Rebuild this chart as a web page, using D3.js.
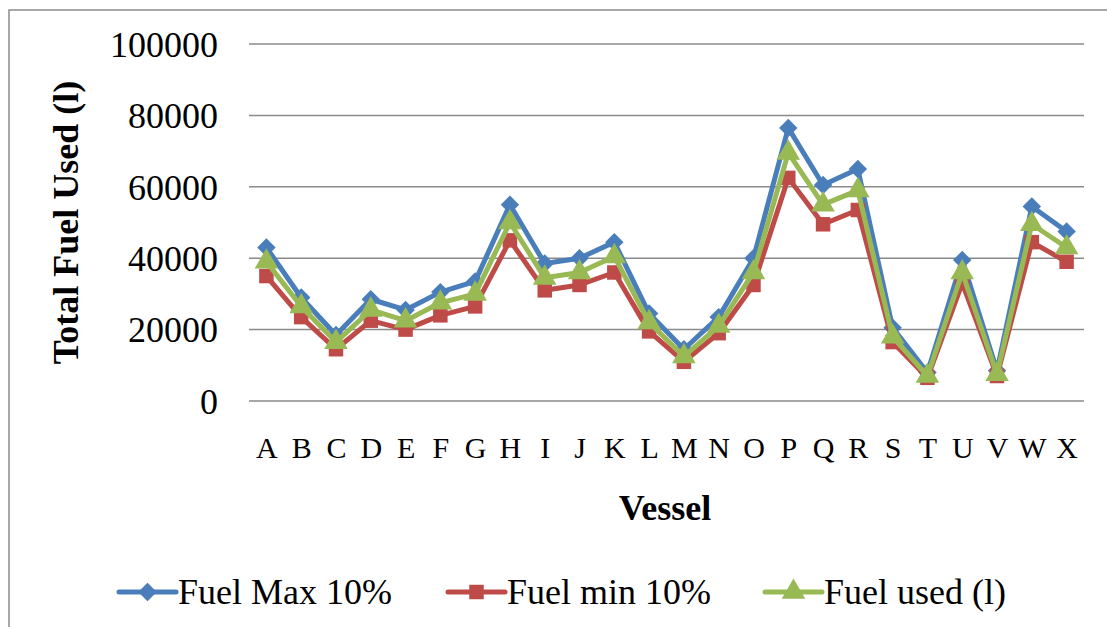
<!DOCTYPE html>
<html>
<head>
<meta charset="utf-8">
<script src="https://cdn.jsdelivr.net/npm/d3@7"></script>
<style>
  body { margin: 0; background: #fff; }
  svg { display: block; font-family: "Liberation Serif", "Times New Roman", serif; }
</style>
</head>
<body>
<div class="chart-wrapper"></div>
<script>
// chart data
const vessels = ["A","B","C","D","E","F","G","H","I","J","K","L","M","N","O","P","Q","R","S","T","U","V","W","X"];
const fuelMax = [43000,29000,18500,28500,25500,30500,33500,55000,38500,40000,44500,24500,14500,23500,40000,76500,60500,65000,20500,8000,39500,8500,54500,47500];
const fuelMin = [35000,23500,14500,22500,20000,24000,26500,45000,31000,32500,36000,19500,11000,19000,32500,62500,49500,53500,16500,6500,33000,7000,44500,39000];
const fuelUsed = [39000,26500,16500,25500,22500,27500,30000,50000,34500,36000,40500,22000,12500,21000,36000,69500,55000,59000,18000,7000,36000,7500,49500,43000];
const yTicks = [0, 20000, 40000, 60000, 80000, 100000];
const seriesNames = ["Fuel Max 10%", "Fuel min 10%", "Fuel used (l)"];

const width = 1107, height = 627;
const plot = { left: 249, right: 1084, top: 44, bottom: 401 };

const svg = d3.select(".chart-wrapper")
  .append("svg")
  .attr("width", width)
  .attr("height", height);

// outer frame (runs off the right / bottom edge like the source)
svg.append("rect")
  .attr("x", 9).attr("y", 10)
  .attr("width", width + 10).attr("height", height + 10)
  .attr("fill", "#fff")
  .attr("stroke", "#8c8c8c")
  .attr("stroke-width", 1.5);

const x = d3.scalePoint().domain(vessels).range([plot.left, plot.right]).padding(0.5);
const y = d3.scaleLinear().domain([0, 100000]).range([plot.bottom, plot.top]);

// gridlines
svg.append("g")
  .selectAll("line")
  .data(yTicks)
  .join("line")
  .attr("x1", plot.left).attr("x2", plot.right)
  .attr("y1", d => y(d)).attr("y2", d => y(d))
  .attr("stroke", "#8a8a8a")
  .attr("stroke-width", 1.5);

// y axis labels
const yAxis = svg.append("g")
  .attr("transform", `translate(${plot.left - 31},0)`)
  .call(d3.axisLeft(y).tickValues(yTicks).tickSize(0).tickPadding(0).tickFormat(d3.format("d")));
yAxis.select(".domain").remove();
yAxis.selectAll("text")
  .attr("font-family", "Liberation Serif")
  .attr("font-size", 36)
  .attr("fill", "#000")
  .attr("dy", "0.34em");

// x axis labels
const xAxis = svg.append("g")
  .attr("transform", `translate(0,${plot.bottom})`)
  .call(d3.axisBottom(x).tickSize(0).tickPadding(0));
xAxis.select(".domain").remove();
xAxis.selectAll("text")
  .attr("font-family", "Liberation Serif")
  .attr("font-size", 30)
  .attr("fill", "#000")
  .attr("dy", null)
  .attr("y", 57);

// axis titles
svg.append("text")
  .attr("x", 665).attr("y", 520)
  .attr("text-anchor", "middle")
  .attr("font-size", 36)
  .attr("font-weight", "bold")
  .text("Vessel");

svg.append("text")
  .attr("transform", `translate(78,${(plot.top + plot.bottom) / 2}) rotate(-90)`)
  .attr("text-anchor", "middle")
  .attr("font-size", 36)
  .attr("font-weight", "bold")
  .text("Total Fuel Used (l)");

// series setup (diamond = square turned 45deg, like excel's marker)
const series = [
  { name: seriesNames[0], values: fuelMax, color: "#4a7ebb", symbol: d3.symbolSquare, size: 170, rotate: 45 },
  { name: seriesNames[1], values: fuelMin, color: "#be4b48", symbol: d3.symbolSquare, size: 210, rotate: 0 },
  { name: seriesNames[2], values: fuelUsed, color: "#98b954", symbol: d3.symbolTriangle, size: 240, rotate: 0 }
];

const line = d3.line()
  .x((d, i) => x(vessels[i]))
  .y(d => y(d));

series.forEach(s => {
  const g = svg.append("g").attr("class", "series");
  g.append("path")
    .attr("d", line(s.values))
    .attr("fill", "none")
    .attr("stroke", s.color)
    .attr("stroke-width", 5)
    .attr("stroke-linejoin", "round");
  g.selectAll("path.marker")
    .data(s.values)
    .join("path")
    .attr("class", "marker")
    .attr("d", d3.symbol().type(s.symbol).size(s.size))
    .attr("transform", (d, i) => `translate(${x(vessels[i])},${y(d)}) rotate(${s.rotate})`)
    .attr("fill", s.color);
});

// legend
const legendX = [119, 448, 765];
const legend = svg.append("g").attr("class", "legend");
series.forEach((s, i) => {
  const lg = legend.append("g").attr("transform", `translate(${legendX[i]},592)`);
  lg.append("line")
    .attr("x1", 0).attr("x2", 57)
    .attr("stroke", s.color)
    .attr("stroke-width", 5)
    .attr("stroke-linecap", "round");
  lg.append("path")
    .attr("d", d3.symbol().type(s.symbol).size(s.size)())
    .attr("transform", `translate(28.5,0) rotate(${s.rotate})`)
    .attr("fill", s.color);
  lg.append("text")
    .attr("x", 59).attr("y", 12)
    .attr("font-size", 36)
    .attr("fill", "#000")
    .text(s.name);
});
</script>
</body>
</html>
